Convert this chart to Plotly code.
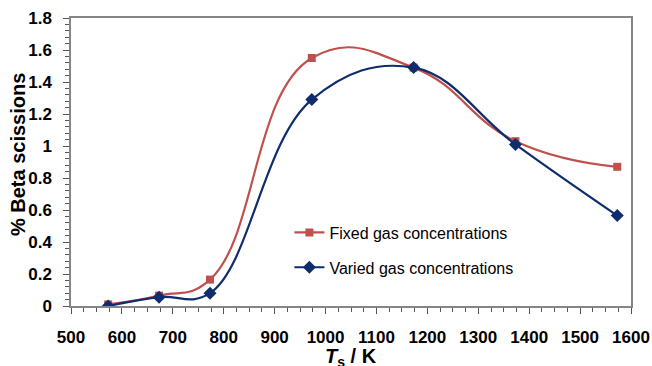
import plotly.graph_objects as go

temps = [573, 673, 773, 973, 1173, 1373, 1573]
fixed = [0.01, 0.065, 0.165, 1.55, 1.49, 1.03, 0.87]
varied = [0.0, 0.055, 0.08, 1.29, 1.49, 1.01, 0.565]
x_ticks = [500, 600, 700, 800, 900, 1000, 1100, 1200, 1300, 1400, 1500, 1600]
y_ticks = [0, 0.2, 0.4, 0.6, 0.8, 1, 1.2, 1.4, 1.6, 1.8]

red = "#C0504D"
blue = "#0F2D6E"
axis_col = "#868686"
font = "Liberation Sans, Arial, sans-serif"

fig = go.Figure()
fig.add_trace(go.Scatter(
    x=temps, y=fixed, name="Fixed gas concentrations", legendgroup="a",
    mode="lines+markers",
    line=dict(color=red, width=2.2, shape="spline", smoothing=1.3),
    marker=dict(symbol="square", size=8, color=red),
))
fig.add_trace(go.Scatter(
    x=temps, y=varied, name="Varied gas concentrations", legendgroup="b",
    mode="lines+markers",
    line=dict(color=blue, width=2.2, shape="spline", smoothing=1.15),
    marker=dict(symbol="diamond", size=10, color=blue),
))

fig.update_layout(
    width=652, height=366,
    margin=dict(l=71, r=21, t=18, b=60),
    paper_bgcolor="white", plot_bgcolor="white",
    font=dict(family=font, color="black"),
    showlegend=True,
    legend=dict(x=0.39, y=0.314, xanchor="left", yanchor="top",
                bgcolor="rgba(0,0,0,0)", font=dict(size=16, family=font),
                itemwidth=30, tracegroupgap=11),
    annotations=[
        dict(
            text="% Beta scissions", textangle=-90,
            xref="paper", yref="paper", x=(18 - 71) / 560, y=0.524,
            xanchor="center", yanchor="middle", showarrow=False,
            font=dict(size=20, family=font, weight="bold", color="black"),
        ),
        dict(
            text="<i>T</i><sub>s</sub> / K",
            xref="paper", yref="paper", x=0.5, y=-(357 - 306) / 288,
            xanchor="center", yanchor="middle", showarrow=False,
            font=dict(size=20, family=font, weight="bold", color="black"),
        ),
    ],
)
fig.update_xaxes(
    range=[500, 1600], tickvals=x_ticks, ticktext=[str(v) for v in x_ticks],
    showgrid=False, zeroline=False, automargin=False,
    showline=True, linecolor=axis_col, linewidth=1.5, mirror=True,
    ticks="outside", ticklen=6, tickcolor="#555",
    minor=dict(ticks="outside", dtick=25, ticklen=4, tickcolor="#555", showgrid=False),
    tickfont=dict(size=17, family=font, weight="bold"),
    ticklabelstandoff=9,
)
fig.update_yaxes(
    range=[0, 1.8], tickvals=y_ticks, ticktext=[("%g" % v) for v in y_ticks],
    showgrid=False, zeroline=False, automargin=False,
    showline=True, linecolor=axis_col, linewidth=1.5, mirror=True,
    ticks="outside", ticklen=6, tickcolor="#555",
    minor=dict(ticks="outside", dtick=0.04, ticklen=4, tickcolor="#555", showgrid=False),
    tickfont=dict(size=17, family=font, weight="bold"),
    ticklabelstandoff=8,
)

fig.write_html("out.html")
